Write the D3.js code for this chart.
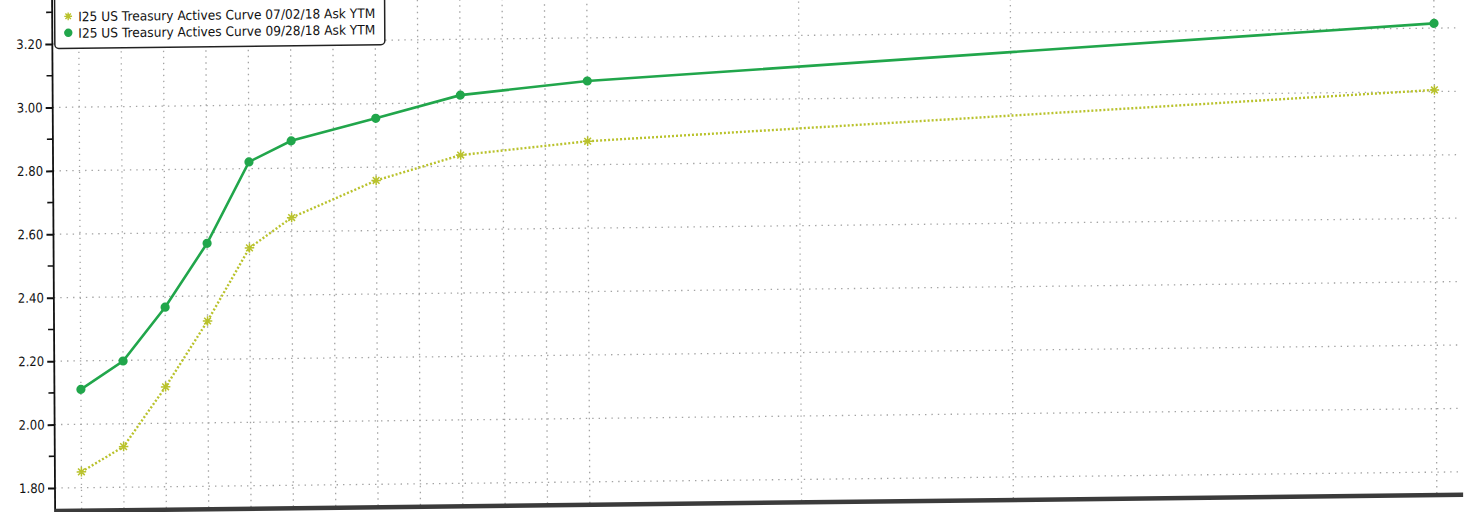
<!DOCTYPE html>
<html>
<head>
<meta charset="utf-8">
<script src="https://cdnjs.cloudflare.com/ajax/libs/d3/7.8.5/d3.min.js"></script>
<style>
  html, body { margin: 0; padding: 0; background: #fff; }
  svg { display: block; }
</style>
</head>
<body>
<svg id="svg" width="1473" height="512"></svg>
<script>
// tenors on the curve (years) and the ask yields
var tenorLabels = ["1M", "3M", "6M", "1Y", "2Y", "3Y", "5Y", "7Y", "10Y", "30Y"];
var tenorYears = [1 / 12, 0.25, 0.5, 1, 2, 3, 5, 7, 10, 30];
var julyYields = [1.850, 1.928, 2.115, 2.321, 2.550, 2.644, 2.758, 2.835, 2.874, 3.005];
var septYields = [2.110, 2.198, 2.366, 2.566, 2.821, 2.886, 2.954, 3.024, 3.064, 3.215];
var seriesNames = [
    "I25 US Treasury Actives Curve 07/02/18 Ask YTM",
    "I25 US Treasury Actives Curve 09/28/18 Ask YTM"
];
// grid columns of the x axis (years)
var gridYears = [1 / 12, 0.25, 0.5, 1, 2, 3, 4, 5, 6, 7, 8, 9, 10, 15, 20, 30];
var yTicks = [1.8, 2.0, 2.2, 2.4, 2.6, 2.8, 3.0, 3.2];
var yMinorTicks = [1.9, 2.1, 2.3, 2.5, 2.7, 2.9, 3.1, 3.3];

var svg = d3.select("svg"),
    width = +svg.attr("width"),
    height = +svg.attr("height");

var axisX = 55, plotRight = 1463, axisBottom = 512;
var step = 42.35, x0 = 81.5;

var font = "'DejaVu Sans Condensed', 'DejaVu Sans', sans-serif";
var green = "#21a64b", olive = "#b9c22c";

// the scan is slightly skewed, so the whole chart sits in a sheared group
var g = svg.append("g")
    .attr("transform", "matrix(1,-0.0115,0.006,1,-2.928,0.6325)");

// bloomberg style tenor axis: short end slots, then linear in years
var x = d3.scaleLinear()
    .domain([1 / 12, 0.25, 0.5, 1, 30])
    .range([x0, x0 + step, x0 + 2 * step, x0 + 3 * step, x0 + 32 * step]);

var y = d3.scaleLinear()
    .domain([1.8, 3.2])
    .range([488, 44]);

// grid
g.append("g").selectAll("line")
    .data(gridYears)
    .enter()
    .append("line")
    .attr("x1", function (d) { return x(d); })
    .attr("x2", function (d) { return x(d); })
    .attr("y1", -20)
    .attr("y2", axisBottom - 2)
    .attr("stroke", "#a3a3a3")
    .attr("stroke-width", 1.3)
    .attr("stroke-dasharray", "1.4,4.6");

g.append("g").selectAll("line")
    .data(yTicks)
    .enter()
    .append("line")
    .attr("x1", axisX)
    .attr("x2", plotRight)
    .attr("y1", function (d) { return y(d); })
    .attr("y2", function (d) { return y(d); })
    .attr("stroke", "#a3a3a3")
    .attr("stroke-width", 1.3)
    .attr("stroke-dasharray", "1.4,5");

// left axis
var yAxis = d3.axisLeft(y)
    .tickValues(yTicks)
    .tickSize(7)
    .tickPadding(3)
    .tickFormat(d3.format(".2f"));

var yAxisG = g.append("g")
    .attr("transform", "translate(" + axisX + ",0)")
    .call(yAxis);
yAxisG.select(".domain").remove();
yAxisG.selectAll(".tick line").attr("stroke", "#111").attr("stroke-width", 2);
yAxisG.selectAll(".tick text")
    .attr("fill", "#111")
    .style("font-family", font)
    .style("font-size", "13px");

g.append("g").selectAll("line")
    .data(yMinorTicks)
    .enter()
    .append("line")
    .attr("x1", axisX - 6)
    .attr("x2", axisX)
    .attr("y1", function (d) { return y(d); })
    .attr("y2", function (d) { return y(d); })
    .attr("stroke", "#111")
    .attr("stroke-width", 1.6);

g.append("line")
    .attr("x1", axisX).attr("x2", axisX)
    .attr("y1", -20).attr("y2", axisBottom)
    .attr("stroke", "#111")
    .attr("stroke-width", 1.8);

g.append("line")
    .attr("x1", axisX).attr("x2", plotRight)
    .attr("y1", axisBottom - 1).attr("y2", axisBottom - 1)
    .attr("stroke", "#3b3b3b")
    .attr("stroke-width", 4.5);

// 8 armed asterisk marker
var asterisk = {
    draw: function (context, size) {
        var r = Math.sqrt(size) / 2;
        var k = r * Math.SQRT1_2;
        context.moveTo(-r, 0); context.lineTo(r, 0);
        context.moveTo(0, -r); context.lineTo(0, r);
        context.moveTo(-k, -k); context.lineTo(k, k);
        context.moveTo(-k, k); context.lineTo(k, -k);
    }
};

var line = d3.line()
    .x(function (d, i) { return x(tenorYears[i]); })
    .y(function (d) { return y(d); });

// july curve, dotted olive with asterisks
g.append("path")
    .datum(julyYields)
    .attr("d", line)
    .attr("fill", "none")
    .attr("stroke", olive)
    .attr("stroke-width", 2.4)
    .attr("stroke-dasharray", "2,2");

g.append("g").selectAll("path")
    .data(julyYields)
    .enter()
    .append("path")
    .attr("transform", function (d, i) { return "translate(" + x(tenorYears[i]) + "," + y(d) + ")"; })
    .attr("d", d3.symbol().type(asterisk).size(90))
    .attr("fill", "none")
    .attr("stroke", olive)
    .attr("stroke-width", 1.5);

// september curve, solid green with dots
g.append("path")
    .datum(septYields)
    .attr("d", line)
    .attr("fill", "none")
    .attr("stroke", green)
    .attr("stroke-width", 2.6);

g.append("g").selectAll("circle")
    .data(septYields)
    .enter()
    .append("circle")
    .attr("cx", function (d, i) { return x(tenorYears[i]); })
    .attr("cy", function (d) { return y(d); })
    .attr("r", 4.6)
    .attr("fill", green);

// legend
var legend = g.append("g");
legend.append("rect")
    .attr("x", 57.5)
    .attr("y", -8)
    .attr("width", 330)
    .attr("height", 56.5)
    .attr("rx", 4)
    .attr("fill", "#fff")
    .attr("stroke", "#222")
    .attr("stroke-width", 1.5);

legend.append("path")
    .attr("transform", "translate(71,16.5)")
    .attr("d", d3.symbol().type(asterisk).size(60))
    .attr("fill", "none")
    .attr("stroke", olive)
    .attr("stroke-width", 1.4);

legend.append("circle")
    .attr("cx", 71)
    .attr("cy", 33)
    .attr("r", 4.2)
    .attr("fill", green);

legend.selectAll("text")
    .data(seriesNames)
    .enter()
    .append("text")
    .attr("x", 81)
    .attr("y", function (d, i) { return 21.5 + i * 16.5; })
    .attr("textLength", 297)
    .attr("lengthAdjust", "spacingAndGlyphs")
    .attr("fill", "#111")
    .style("font-family", "'DejaVu Sans', sans-serif")
    .style("font-size", "13px")
    .text(function (d) { return d; });
</script>
</body>
</html>
